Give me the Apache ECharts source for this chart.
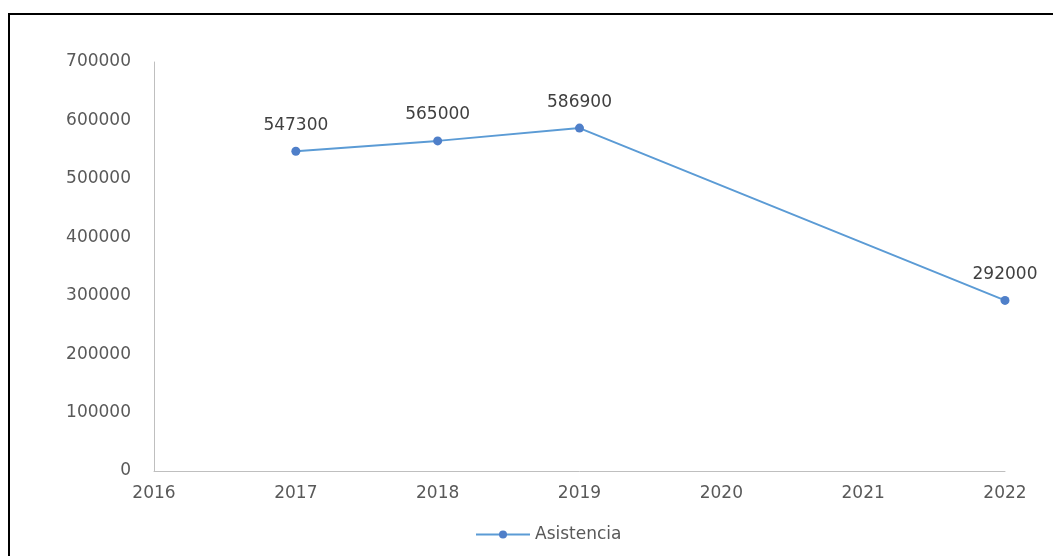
<!DOCTYPE html>
<html>
<head>
<meta charset="utf-8">
<script src="https://cdn.jsdelivr.net/npm/echarts@6/dist/echarts.min.js"></script>
<style>
  html, body { margin: 0; padding: 0; background: #fff; }
  #chart { width: 1053px; height: 556px; }
</style>
</head>
<body>
<div id="chart"></div>
<script>
// Asistencia anual (eje X numérico, como un gráfico de dispersión de Excel)
const years = [2017, 2018, 2019, 2022];
const attendance = [547300, 565000, 586900, 292000];
const seriesName = "Asistencia";

const labelFont = "DejaVu Sans";
const chart = echarts.init(document.getElementById("chart"));

chart.setOption({
    animation: false,
    textStyle: { fontFamily: labelFont },
    graphic: [{
        type: "rect",
        shape: { x: 9, y: 14, width: 1100, height: 600 },
        style: { fill: "none", stroke: "#000", lineWidth: 2 }
    }],
    grid: { left: 154, right: 48, top: 62, bottom: 85 },
    legend: {
        bottom: 8,
        left: 470,
        itemWidth: 54,
        itemHeight: 10,
        textStyle: { color: "#595959", fontSize: 17 },
        data: [seriesName]
    },
    xAxis: {
        type: "value",
        min: 2016,
        max: 2022,
        interval: 1,
        axisLine: { show: true, lineStyle: { color: "#bfbfbf" } },
        axisTick: { show: false },
        splitLine: { show: false },
        axisLabel: {
            color: "#595959",
            fontSize: 17,
            margin: 14,
            formatter: value => String(value)
        }
    },
    yAxis: {
        type: "value",
        min: 0,
        max: 700000,
        interval: 100000,
        axisLine: { show: true, lineStyle: { color: "#bfbfbf" } },
        axisTick: { show: false },
        splitLine: { show: false },
        axisLabel: {
            color: "#595959",
            fontSize: 17,
            margin: 23,
            formatter: value => String(value)
        }
    },
    series: [{
        name: seriesName,
        type: "line",
        data: years.map((year, i) => [year, attendance[i]]),
        symbol: "circle",
        symbolSize: 9,
        lineStyle: { color: "#5b9bd5", width: 2 },
        itemStyle: { color: "#4f7fc9" },
        label: {
            show: true,
            position: "top",
            distance: 13,
            color: "#404040",
            fontSize: 17,
            formatter: params => String(params.value[1])
        }
    }]
});
</script>
</body>
</html>
